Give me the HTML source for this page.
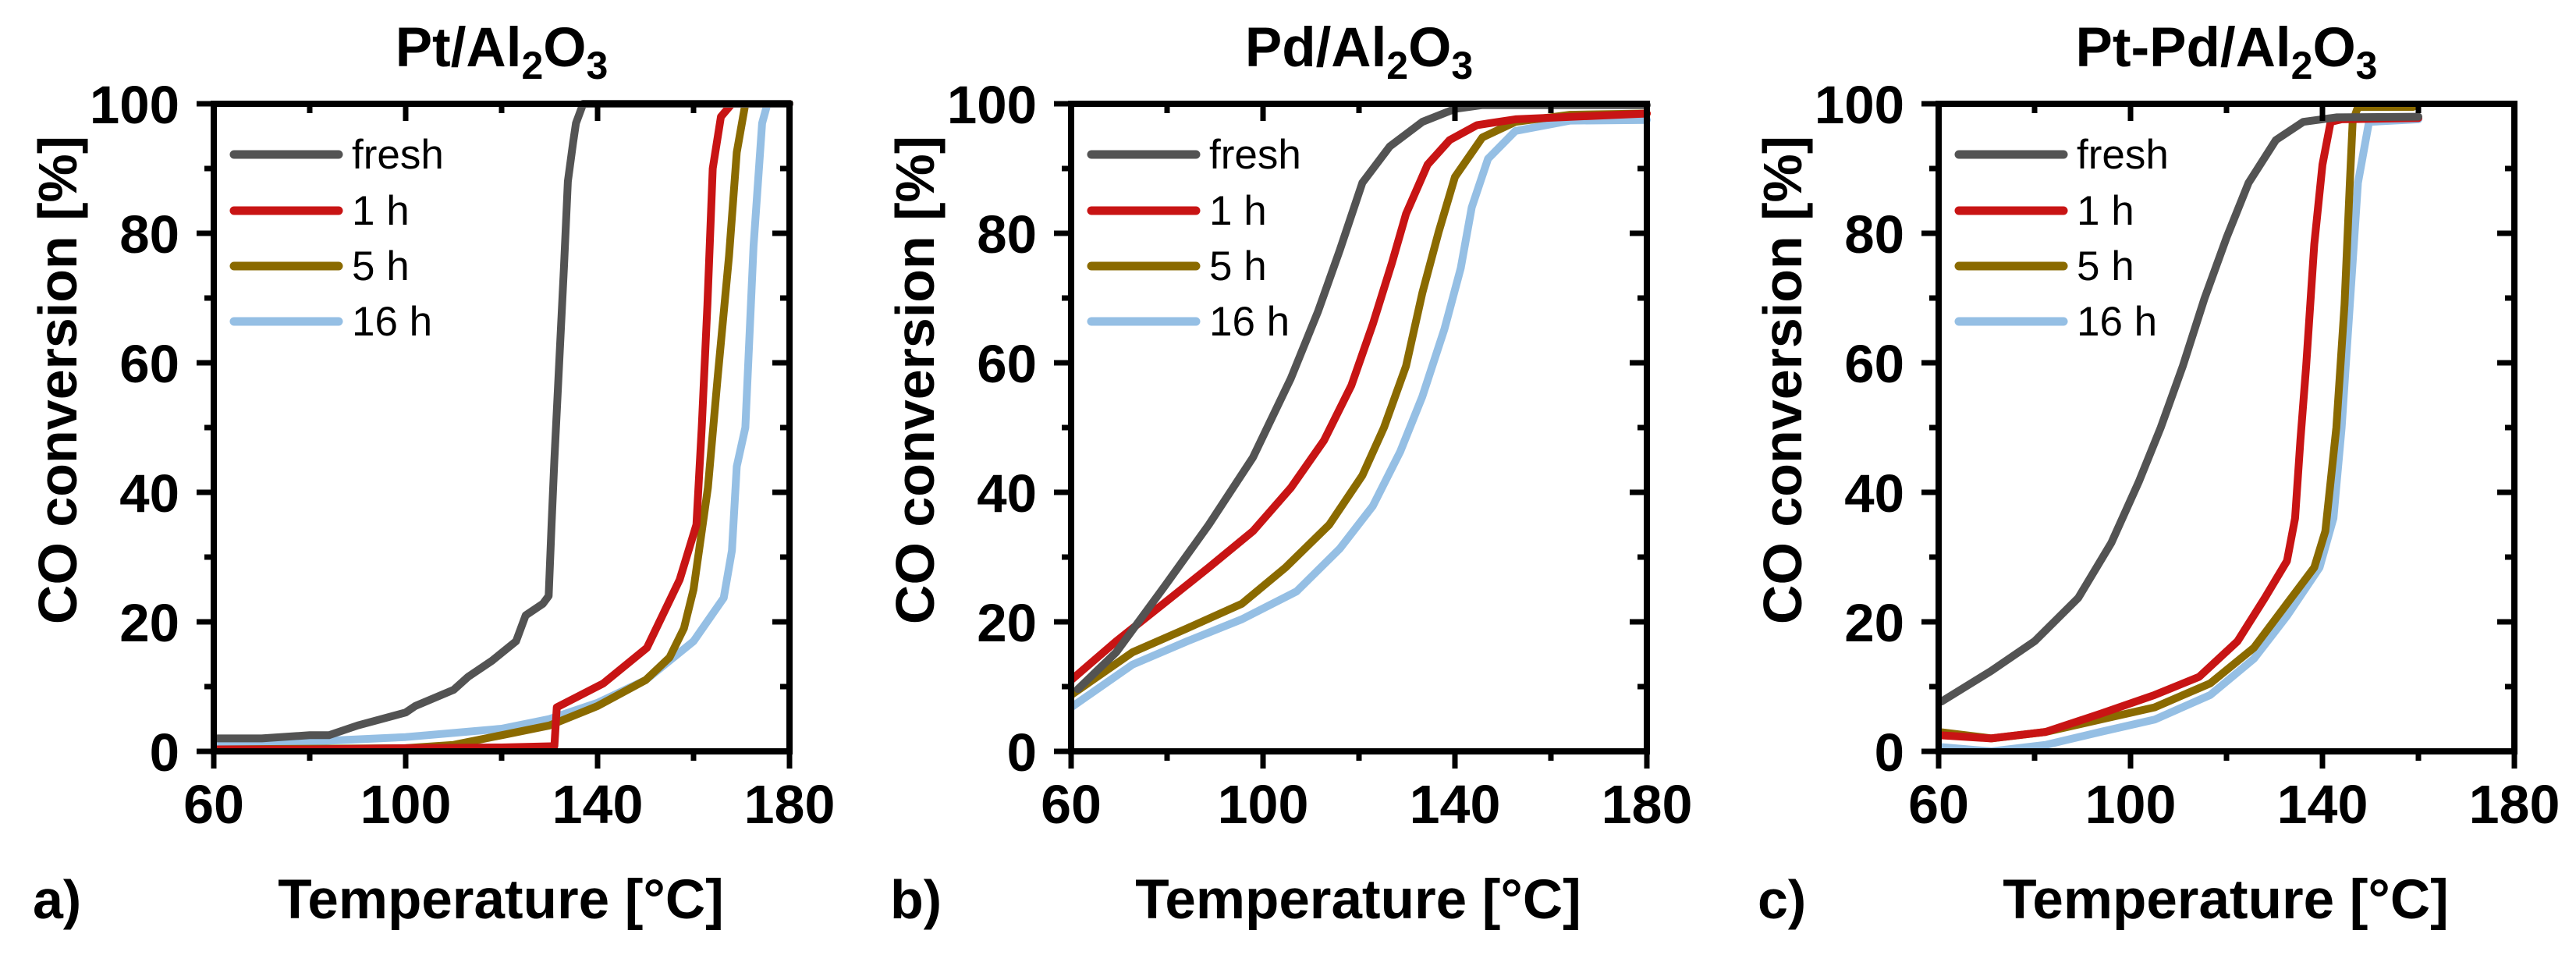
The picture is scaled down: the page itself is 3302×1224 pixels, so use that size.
<!DOCTYPE html>
<html><head><meta charset="utf-8">
<style>
html,body{margin:0;padding:0;background:#fff;}
svg{display:block;font-family:"Liberation Sans",Arial,sans-serif;}
</style></head>
<body>
<svg id="fig" width="3302" height="1224" viewBox="0 0 3302 1224" xmlns="http://www.w3.org/2000/svg"></svg>
<script>
// ---- data ----
const seriesNames = ["fresh","1 h","5 h","16 h"];
const seriesColors = ["#535353","#c81414","#8a6a00","#95bfe4"];
const xTicks = [60,100,140,180];
const yTicks = [0,20,40,60,80,100];
const panelTitles = ["Pt/Al|2|O|3|","Pd/Al|2|O|3|","Pt-Pd/Al|2|O|3|"];
const panelLetters = ["a)","b)","c)"];

// Panel a: Pt/Al2O3
const aFreshT = [60,70,80,84,90,100,102,110,113,118,123,125,128.6,129.8,130.4,131,132,133,133.8,134.9,135.5,137,180];
const aFreshY = [2,2,2.5,2.5,4,6,7,9.5,11.5,14,17,21,22.8,24,35,45,60,75,88,94,97,100,100];
const a1hT = [60,80,100,120,131,131.5,141.2,150.3,157.1,160.6,161.7,162.9,164,165.7,168,180];
const a1hY = [0.3,0.3,0.5,0.6,0.8,6.8,10.5,16,26.5,35,50,69,90,98,100,100];
const a5hT = [60,100,110,120,130,140,150,155,158,160,163,165,167.4,169,170.8,180];
const a5hY = [0.3,0.5,1,2.5,4,7,11,14.5,19,25,40.7,57.6,76.5,92.5,100,100];
const a16hT = [60,80,100,120,130,140,150,160,166.3,168,169,170.8,172.5,174.3,175.4,180];
const a16hY = [1,1.5,2.2,3.5,5,7.5,11,17,23.7,31,44,50,78,97,100,100];

// Panel b: Pd/Al2O3
const bFreshT = [61.4,69.4,79.6,88.7,97.9,105.8,111.5,116,120.7,126.4,133.2,140,145.7,180];
const bFreshY = [9.6,15.3,25.6,35,45.4,57.6,68,77.4,87.8,93.4,97.2,99.2,99.8,99.8];
const b1hT = [60,69.4,79.6,88.7,97.9,105.8,112.7,118.4,122.9,126.9,129.8,134.3,138.9,144.6,152.6,180];
const b1hY = [11,17,23,28.4,34,40.7,48,56.5,66,75.5,83,90.6,94.4,96.7,97.6,98.5];
const b5hT = [60,72.8,84.2,95.6,104.7,113.8,120.7,125.2,129.8,133.2,136.6,140,145.7,152.6,164,180];
const b5hY = [8.7,15.3,19,22.8,28.4,35,42.6,50,59.5,70.8,80.2,88.7,94.8,97.2,98.3,98.5];
const b16hT = [60,72.8,84.2,95.6,107,116,122.9,128.6,133.2,137.8,141.2,143.5,146.9,152.6,164,180];
const b16hY = [6.8,13.4,17,20.4,24.7,31.3,37.9,46.3,54.8,65.2,74.6,84,91.5,95.8,97.4,97.5];

// Panel c: Pt-Pd/Al2O3
const cFreshT = [60.6,70.9,80,89.1,96,101.7,106.3,110.9,115.4,120,124.6,130.3,136,142.9,160];
const cFreshY = [7.7,12.4,17,23.7,32.2,41.6,50,59.5,69.9,79.3,87.8,94.4,97.2,97.9,98];
const c1hT = [60,70.9,82.3,93.7,105,114.3,122.3,128,132.6,134.3,135.4,136.6,138.3,140,141.7,144,160];
const c1hY = [2.5,2,3,5.8,8.7,11.5,17,23.7,29.4,36,48,59.5,78.3,90.6,97.2,97.6,97.8];
const c5hT = [60,71,82.3,93.7,105,116.6,125.7,132.6,138.3,140.6,142.9,144.6,145.7,146.3,147.4,158.9];
const c5hY = [3,2,3,4.9,6.8,10.5,16,22.8,28.4,34,50,69,87.8,97.2,99.5,99.5];
const c16hT = [60,71,82.3,93.7,105,116.6,125.7,132.6,139.4,142.3,144,145.7,147.4,149.7,160];
const c16hY = [0.7,0,1,3,4.9,8.7,14.3,20.9,28.4,36,50,69,87.8,97.2,97.6];

const panelsT = [[aFreshT,a1hT,a5hT,a16hT],[bFreshT,b1hT,b5hT,b16hT],[cFreshT,c1hT,c5hT,c16hT]];
const panelsY = [[aFreshY,a1hY,a5hY,a16hY],[bFreshY,b1hY,b5hY,b16hY],[cFreshY,c1hY,c5hY,c16hY]];

// ---- layout ----
const NS = "http://www.w3.org/2000/svg";
const svg = document.getElementById("fig");
const plotLeft = [274,1373,2485];
const plotW = 738, plotTop = 133, plotBottom = 963;
function mk(tag, attrs, parent){
  const e = document.createElementNS(NS, tag);
  for (const k in attrs) e.setAttribute(k, attrs[k]);
  (parent||svg).appendChild(e);
  return e;
}
const defs = mk("defs",{});
for (let p=0;p<3;p++){
  const x0 = plotLeft[p], x1 = x0+plotW;
  const xs = v => x0 + (v-60)/(180-60)*plotW;
  const ys = v => plotBottom - v/100*(plotBottom-plotTop);
  const g = mk("g",{});
  
  
  const cp = mk("clipPath",{id:"clip"+p},defs);
  mk("rect",{x:x0,y:plotTop-6,width:plotW+8,height:plotBottom-plotTop+6},cp);
  const cg = mk("g",{"clip-path":"url(#clip"+p+")"},g);
  for (let s=3;s>=0;s--){
    const T = panelsT[p][s], Y = panelsY[p][s];
    let d = "";
    for (let i=0;i<T.length;i++) d += (i?"L":"M")+xs(T[i]).toFixed(1)+","+ys(Y[i]).toFixed(1);
    const path = mk("path",{d:d,fill:"none",stroke:seriesColors[s],"stroke-width":10,"stroke-linejoin":"round","stroke-linecap":"round"},cg);
    
    
  }
  const fr = mk("rect",{x:x0,y:plotTop,width:plotW,height:plotBottom-plotTop,fill:"none",stroke:"#000","stroke-width":8},g);
  
  
  for (let v=60; v<=180; v+=20){
    const major = xTicks.includes(v), L = major?22:12, X = xs(v);
    mk("line",{x1:X,x2:X,y1:plotBottom,y2:plotBottom+L,stroke:"#000","stroke-width":7},g);
    mk("line",{x1:X,x2:X,y1:plotTop,y2:plotTop+L,stroke:"#000","stroke-width":7},g);
  }
  for (let v=0; v<=100; v+=10){
    const major = yTicks.includes(v), L = major?22:12, Y = ys(v);
    mk("line",{x1:x0-L,x2:x0,y1:Y,y2:Y,stroke:"#000","stroke-width":7},g);
    mk("line",{x1:x1-L,x2:x1,y1:Y,y2:Y,stroke:"#000","stroke-width":7},g);
  }
  xTicks.forEach(v=>{
    const t = mk("text",{x:xs(v),y:1055,"text-anchor":"middle","font-size":70,"font-weight":"bold"},g);
    t.textContent = v;
    
    
  });
  yTicks.forEach(v=>{
    const t = mk("text",{x:x0-44,y:ys(v)+25,"text-anchor":"end","font-size":69,"font-weight":"bold"},g);
    t.textContent = v;
    
    
  });
  const parts = panelTitles[p].split("|");
  const tt = mk("text",{x:x0+plotW/2,y:85,"text-anchor":"middle","font-size":71,"font-weight":"bold"},g);
  
  
  parts.forEach((s,i)=>{
    if(!s) return;
    const ts = mk("tspan",{},tt);
    if (i%2===1){ ts.setAttribute("font-size",50); ts.setAttribute("dy",16); }
    else if (i>0){ ts.setAttribute("dy",-16); }
    ts.textContent = s;
  });
  const yt = mk("text",{x:0,y:0,"text-anchor":"middle","font-size":70,"font-weight":"bold",transform:"translate("+(x0-176)+",487) rotate(-90)"},g);
  yt.textContent = "CO conversion [%]";
  
  
  const xt = mk("text",{x:x0+plotW/2-1,y:1177,"text-anchor":"middle","font-size":71,"font-weight":"bold"},g);
  xt.textContent = "Temperature [°C]";
  
  
  const lt = mk("text",{x:x0-232,y:1177,"font-size":70,"font-weight":"bold"},g);
  lt.textContent = panelLetters[p];
  
  
  const lg = mk("g",{},g);
  
  
  const legY = [198,270,341,412];
  for (let s=0;s<4;s++){
    const ln = mk("line",{x1:x0+26,x2:x0+160,y1:legY[s],y2:legY[s],stroke:seriesColors[s],"stroke-width":11,"stroke-linecap":"round"},lg);
    
    
    const lt2 = mk("text",{x:x0+177,y:legY[s]+18,"font-size":53},lg);
    lt2.textContent = seriesNames[s];
    
    
  }
}
</script>
</body></html>
